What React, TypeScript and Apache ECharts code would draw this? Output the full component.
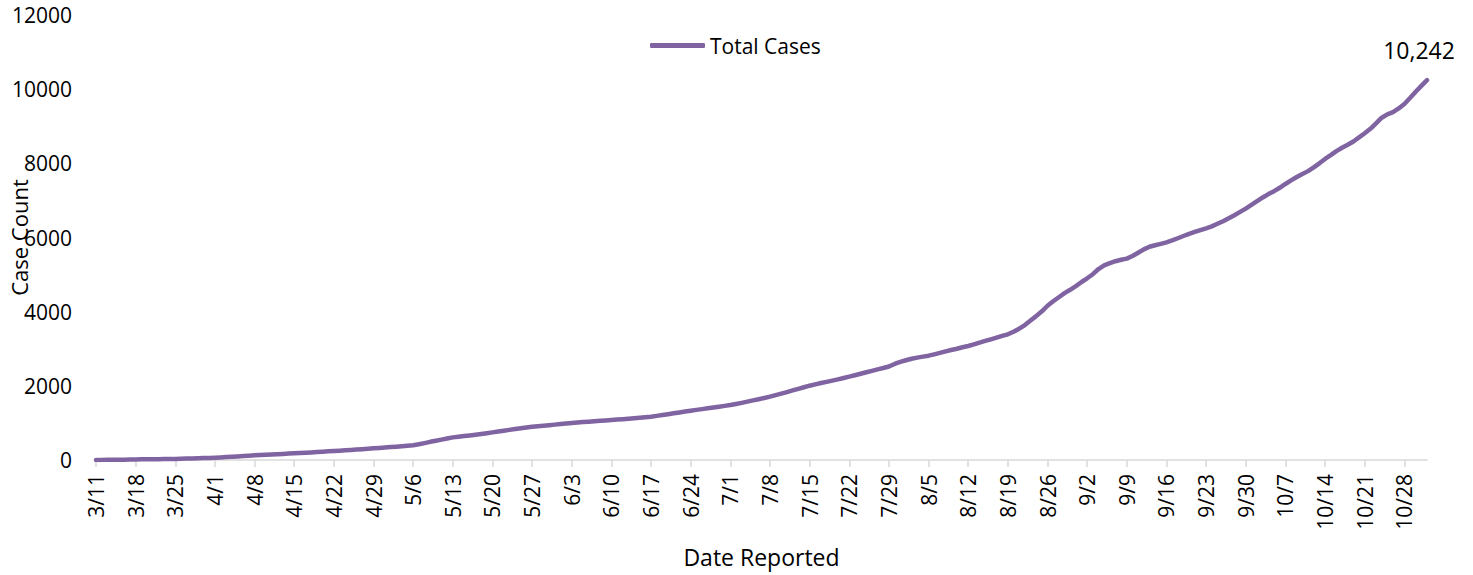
import { useEffect, useRef } from "react";
import * as echarts from "echarts";

// Daily cumulative cases, 3/11 through 11/1 (one row per week)
const totalCases: number[] = [
  2, 3, 5, 6, 8, 10, 12, 15,
  17, 19, 21, 23, 25, 28, 30,
  34, 38, 42, 46, 51, 56, 62,
  70, 78, 87, 96, 105, 116, 126,
  134, 141, 148, 156, 164, 172, 180,
  188, 196, 205, 214, 224, 233, 243,
  252, 262, 272, 282, 293, 304, 315,
  325, 336, 348, 360, 373, 386, 400,
  423, 455, 490, 520, 550, 580, 610,
  628, 645, 662, 682, 703, 724, 745,
  768, 790, 812, 835, 857, 878, 898,
  912, 925, 940, 954, 968, 983, 998,
  1010, 1022, 1033, 1045, 1057, 1068, 1079,
  1090, 1101, 1113, 1127, 1140, 1154, 1168,
  1190, 1212, 1236, 1258, 1282, 1306, 1330,
  1352, 1372, 1393, 1416, 1438, 1460, 1483,
  1510, 1540, 1573, 1607, 1640, 1673, 1708,
  1748, 1790, 1832, 1876, 1920, 1962, 2004,
  2040, 2075, 2108, 2140, 2175, 2212, 2247,
  2285, 2325, 2365, 2405, 2445, 2480, 2520,
  2590, 2645, 2690, 2730, 2760, 2787, 2813,
  2850, 2890, 2930, 2965, 3000, 3040, 3075,
  3120, 3165, 3210, 3255, 3300, 3345, 3390,
  3460, 3540, 3640, 3760, 3880, 4010, 4160,
  4280, 4390, 4500, 4590, 4690, 4800, 4900,
  5010, 5150, 5250, 5310, 5360, 5400, 5430,
  5500, 5590, 5680, 5750, 5790, 5830, 5870,
  5920, 5980, 6040, 6100, 6150, 6200, 6248,
  6300, 6370, 6440, 6520, 6600, 6690, 6780,
  6880, 6980, 7080, 7170, 7250, 7340, 7443,
  7540, 7630, 7710, 7790, 7890, 8000, 8118,
  8220, 8330, 8420, 8500, 8590, 8700, 8810,
  8930, 9080, 9230, 9320, 9380, 9480, 9600,
  9760, 9930, 10090, 10242,
];

const seriesName = "Total Cases";
const xAxisTitle = "Date Reported";
const yAxisTitle = "Case Count";
const yMin = 0;
const yMax = 12000;
const yStep = 2000;

function buildDates(n: number): string[] {
  const out: string[] = [];
  const d = new Date(2020, 2, 11);
  for (let i = 0; i < n; i++) {
    out.push(`${d.getMonth() + 1}/${d.getDate()}`);
    d.setDate(d.getDate() + 1);
  }
  return out;
}

const dates = buildDates(totalCases.length);

export default function App() {
  const ref = useRef<HTMLDivElement>(null);

  useEffect(() => {
    document.body.style.margin = "0";
    if (!ref.current) return;
    const chart = echarts.init(ref.current, null, { renderer: "svg" });
    const font = "'Open Sans', 'Noto Sans', sans-serif";
    const lastIdx = totalCases.length - 1;
    chart.setOption({
      animation: false,
      backgroundColor: "#ffffff",
      textStyle: { fontFamily: font, color: "#000" },
      legend: {
        data: [seriesName],
        left: 645,
        top: 30,
        icon: "roundRect",
        itemWidth: 55,
        itemHeight: 5,
        textStyle: { fontFamily: font, fontSize: 21, color: "#000" },
      },
      grid: {
        left: 96,
        right: 46,
        top: 15,
        bottom: 115,
        containLabel: false,
        outerBoundsMode: "none",
      },
      xAxis: {
        type: "category",
        data: dates,
        boundaryGap: false,
        name: xAxisTitle,
        nameLocation: "middle",
        nameGap: 85,
        nameMoveOverlap: false,
        nameTextStyle: { fontFamily: font, fontSize: 23, color: "#000" },
        axisLine: { show: true, lineStyle: { color: "#d9d9d9", width: 1.5 } },
        axisTick: { show: true, interval: 6, length: 7, lineStyle: { color: "#d9d9d9", width: 1.5 } },
        axisLabel: {
          interval: 6,
          rotate: 90,
          margin: 14,
          fontFamily: font,
          fontSize: 21,
          color: "#000",
        },
        splitLine: { show: false },
      },
      yAxis: {
        type: "value",
        min: yMin,
        max: yMax,
        interval: yStep,
        name: yAxisTitle,
        nameLocation: "middle",
        nameGap: 66,
        nameMoveOverlap: false,
        nameTextStyle: { fontFamily: font, fontSize: 22, color: "#000" },
        axisLine: { show: false },
        axisTick: { show: false },
        splitLine: { show: false },
        axisLabel: {
          margin: 24,
          fontFamily: font,
          fontSize: 21,
          color: "#000",
          formatter: (v: number) => String(v),
        },
      },
      series: [
        {
          name: seriesName,
          type: "line",
          data: totalCases,
          symbol: "none",
          showSymbol: false,
          smooth: false,
          color: "#8064A2",
          lineStyle: { color: "#8064A2", width: 4.5, cap: "round", join: "round" },
          itemStyle: { color: "#8064A2" },
          markPoint: {
            symbol: "circle",
            symbolSize: 1,
            itemStyle: { color: "rgba(0,0,0,0)" },
            label: {
              show: true,
              position: "top",
              distance: 18,
              offset: [-8, 0],
              fontFamily: font,
              fontSize: 23,
              color: "#000",
              formatter: (p: any) => Number(p.value).toLocaleString("en-US"),
            },
            data: [{ coord: [dates[lastIdx], totalCases[lastIdx]], value: totalCases[lastIdx] }],
          },
        },
      ],
    });
    return () => chart.dispose();
  }, []);

  return <div ref={ref} style={{ width: 1473, height: 575 }} />;
}
